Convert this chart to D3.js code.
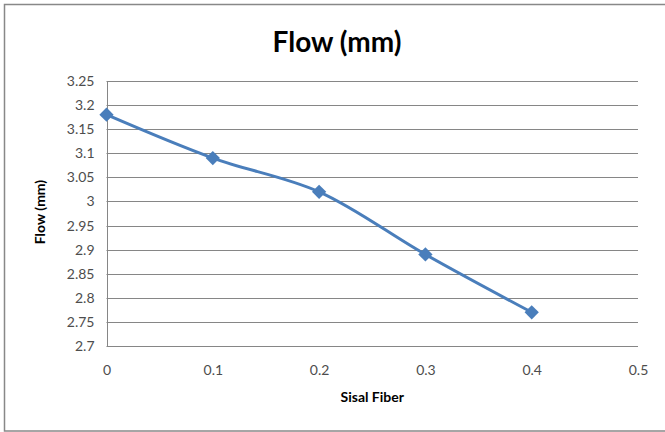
<!DOCTYPE html>
<html>
<head>
<meta charset="utf-8">
<script src="https://cdn.jsdelivr.net/npm/d3@7"></script>
<style>
	body { margin: 0; background: #fff; }
	svg { display: block; }
</style>
</head>
<body>
<svg id="chart"></svg>
<script>
// datos
var fibra = [0, 0.1, 0.2, 0.3, 0.4];
var flujo = [3.18, 3.09, 3.02, 2.89, 2.77];
var xTicks = [0, 0.1, 0.2, 0.3, 0.4, 0.5];
var yTicks = [2.7, 2.75, 2.8, 2.85, 2.9, 2.95, 3, 3.05, 3.1, 3.15, 3.2, 3.25];
var titulo = 'Flow (mm)';
var ejeX = 'Sisal Fiber';
var ejeY = 'Flow (mm)';

var puntos = fibra.map(function(f, i) { return {x: f, y: flujo[i]}; });

var width = 665, height = 432;
var margin = {top: 81, right: 27, bottom: 86, left: 106.5};
var fuente = 'Lato, "Open Sans", sans-serif';

var svg = d3.select('#chart')
	.attr('width', width)
	.attr('height', height);

// marco del grafico
svg.append('rect')
	.attr('x', 4.5)
	.attr('y', 4.5)
	.attr('width', 680)
	.attr('height', 426.5)
	.attr('fill', 'none')
	.attr('stroke', '#888')
	.attr('stroke-width', 1.5);

var x = d3.scaleLinear().domain([0, 0.5]).range([margin.left, width - margin.right]);
var y = d3.scaleLinear().domain([2.7, 3.25]).range([height - margin.bottom, margin.top]);

// lineas de la grilla
svg.append('g')
	.selectAll('line')
	.data(yTicks)
	.enter().append('line')
	.attr('x1', x(0))
	.attr('x2', x(0.5))
	.attr('y1', function(d) { return Math.round(y(d)) + 0.5; })
	.attr('y2', function(d) { return Math.round(y(d)) + 0.5; })
	.attr('stroke', '#868686')
	.attr('stroke-width', 1);

// eje vertical
svg.append('line')
	.attr('x1', Math.round(x(0)) + 0.5)
	.attr('x2', Math.round(x(0)) + 0.5)
	.attr('y1', y(3.25))
	.attr('y2', y(2.7))
	.attr('stroke', '#868686');

var yAxis = d3.axisLeft(y)
	.tickValues(yTicks)
	.tickSize(0)
	.tickPadding(12)
	.tickFormat(function(d) { return String(+d.toFixed(2)); });

var gy = svg.append('g')
	.attr('transform', 'translate(' + x(0) + ',0)')
	.call(yAxis);
gy.select('.domain').remove();
gy.selectAll('text')
	.style('font-family', fuente)
	.style('font-size', '14px')
	.attr('fill', '#4d4d4d');

var xAxis = d3.axisBottom(x)
	.tickValues(xTicks)
	.tickSize(0)
	.tickPadding(19)
	.tickFormat(function(d) { return String(+d.toFixed(1)); });

var gx = svg.append('g')
	.attr('transform', 'translate(0,' + y(2.7) + ')')
	.call(xAxis);
gx.select('.domain').remove();
gx.selectAll('text')
	.style('font-family', fuente)
	.style('font-size', '14px')
	.attr('fill', '#4d4d4d');

// linea suavizada
var linea = d3.line()
	.x(function(d) { return x(d.x); })
	.y(function(d) { return y(d.y); })
	.curve(d3.curveCatmullRom.alpha(0.5));

svg.append('path')
	.datum(puntos)
	.attr('d', linea)
	.attr('fill', 'none')
	.attr('stroke', '#4a7ebb')
	.attr('stroke-width', 3);

svg.append('g')
	.selectAll('path')
	.data(puntos)
	.enter().append('path')
	.attr('d', d3.symbol().type(d3.symbolDiamond2).size(130))
	.attr('transform', function(d) { return 'translate(' + x(d.x) + ',' + y(d.y) + ')'; })
	.attr('fill', '#4a7ebb');

// titulos
svg.append('text')
	.attr('x', 337)
	.attr('y', 52)
	.attr('text-anchor', 'middle')
	.style('font-family', fuente)
	.style('font-size', '28px')
	.style('font-weight', 'bold')
	.text(titulo);

svg.append('text')
	.attr('x', (x(0) + x(0.5)) / 2)
	.attr('y', 402)
	.attr('text-anchor', 'middle')
	.style('font-family', fuente)
	.style('font-size', '14px')
	.style('font-weight', 'bold')
	.text(ejeX);

svg.append('text')
	.attr('transform', 'translate(45,' + 212 + ') rotate(-90)')
	.attr('text-anchor', 'middle')
	.style('font-family', fuente)
	.style('font-size', '14px')
	.style('font-weight', 'bold')
	.text(ejeY);
</script>
</body>
</html>
